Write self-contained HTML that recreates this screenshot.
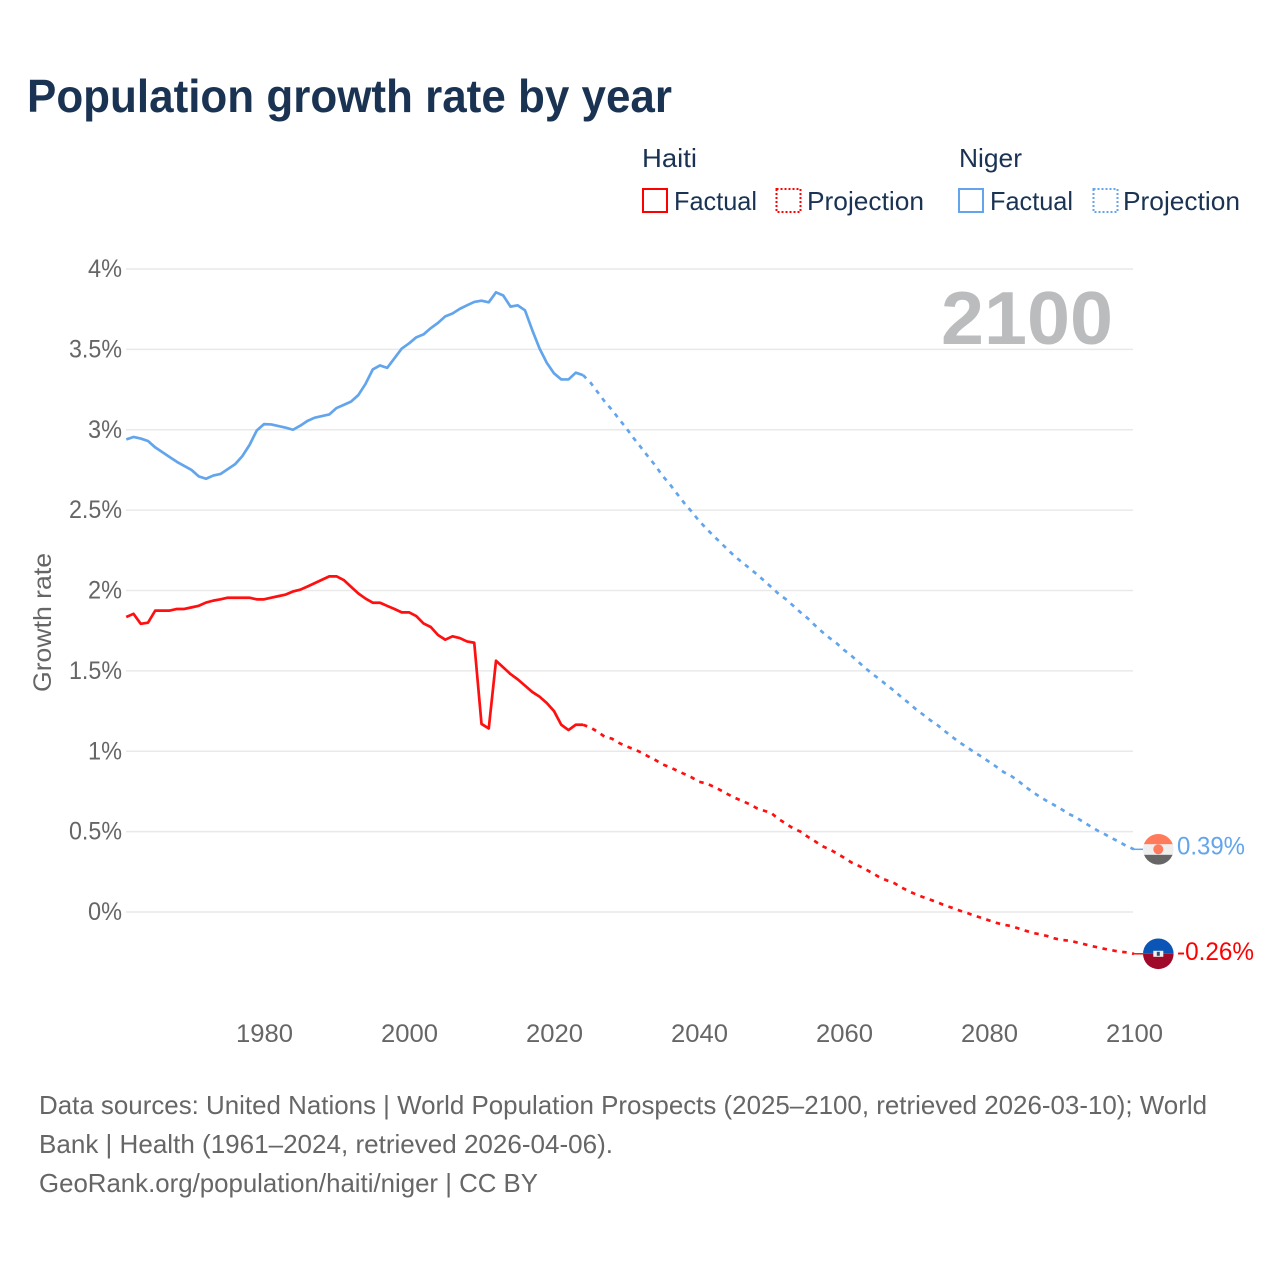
<!DOCTYPE html>
<html lang="en">
<head>
<meta charset="utf-8">
<title>Population growth rate by year</title>
<style>
html,body{margin:0;padding:0;background:#fff}
svg{display:block}
text{font-family:"Liberation Sans",sans-serif}
</style>
</head>
<body>
<svg id="chart" xmlns="http://www.w3.org/2000/svg" width="1280" height="1280" viewBox="0 0 1280 1280">
  <rect width="1280" height="1280" fill="#fff"/>
  <text x="27" y="112" font-size="46" font-weight="700" fill="#1a3353" textLength="645" lengthAdjust="spacingAndGlyphs">Population growth rate by year</text>

  <g font-size="26" fill="#1a3353">
    <text x="642" y="167" textLength="55" lengthAdjust="spacingAndGlyphs">Haiti</text>
    <text x="959" y="167" textLength="63" lengthAdjust="spacingAndGlyphs">Niger</text>
    <g>
      <rect x="643" y="189" width="24" height="23" fill="none" stroke="#ff0000" stroke-width="2"/>
      <text x="674" y="210" textLength="83" lengthAdjust="spacingAndGlyphs">Factual</text>
    </g>
    <g>
      <rect x="776.500" y="189" width="24" height="23" fill="none" stroke="#ff0000" stroke-width="2" stroke-dasharray="2 2"/>
      <text x="807" y="210" textLength="117" lengthAdjust="spacingAndGlyphs">Projection</text>
    </g>
    <g>
      <rect x="959" y="189" width="24" height="23" fill="none" stroke="#63a5ec" stroke-width="2"/>
      <text x="990" y="210" textLength="83" lengthAdjust="spacingAndGlyphs">Factual</text>
    </g>
    <g>
      <rect x="1093.500" y="189" width="24" height="23" fill="none" stroke="#63a5ec" stroke-width="2" stroke-dasharray="2 2"/>
      <text x="1123" y="210" textLength="117" lengthAdjust="spacingAndGlyphs">Projection</text>
    </g>
  </g>

  <g id="grid"></g>
  <g id="yticks"></g>
  <g id="xticks"></g>
  <text transform="translate(51 692) rotate(-90)" font-size="25" fill="#666" textLength="139" lengthAdjust="spacingAndGlyphs">Growth rate</text>
  <text x="941" y="344" font-size="75" font-weight="700" fill="#bbbcbe" textLength="172" lengthAdjust="spacingAndGlyphs">2100</text>

  <g id="series"></g>

  <g id="flag-niger">
    <clipPath id="clip-niger"><circle cx="0" cy="0" r="15.300"/></clipPath>
    <g clip-path="url(#clip-niger)">
      <rect x="-16" y="-16" width="32" height="11" fill="#ff7b5c"/>
      <rect x="-16" y="-5" width="32" height="10.500" fill="#efefef"/>
      <rect x="-16" y="5.500" width="32" height="11" fill="#666666"/>
      <circle cx="0" cy="0" r="5" fill="#ff7b5c"/>
    </g>
  </g>
  <g id="flag-haiti">
    <clipPath id="clip-haiti"><circle cx="0" cy="0" r="15.300"/></clipPath>
    <g clip-path="url(#clip-haiti)">
      <rect x="-16" y="-16" width="32" height="16" fill="#0a55b5"/>
      <rect x="-16" y="0" width="32" height="16" fill="#a00a2a"/>
      <rect x="-5" y="-3" width="10" height="6" fill="#f2f2f2"/>
      <rect x="-1.500" y="-2" width="3" height="4" fill="#33506e"/>
    </g>
  </g>
  <text id="value-niger" x="1177" font-size="25" fill="#63a5ec" textLength="68" lengthAdjust="spacingAndGlyphs"></text>
  <text id="value-haiti" x="1177" font-size="25" fill="#ff0000" textLength="77" lengthAdjust="spacingAndGlyphs"></text>

  <g font-size="26" fill="#666">
    <text x="39" y="1114" textLength="1168" lengthAdjust="spacingAndGlyphs">Data sources: United Nations | World Population Prospects (2025–2100, retrieved 2026-03-10); World</text>
    <text x="39" y="1153" textLength="574" lengthAdjust="spacingAndGlyphs">Bank | Health (1961–2024, retrieved 2026-04-06).</text>
    <text x="39" y="1192" textLength="499" lengthAdjust="spacingAndGlyphs">GeoRank.org/population/haiti/niger | CC BY</text>
  </g>
</svg>
<script>
const firstYear = 1961;
const xTickLabels = [1980, 2000, 2020, 2040, 2060, 2080, 2100];
const yTickValues = [0, 0.5, 1, 1.5, 2, 2.5, 3, 3.5, 4];
const yTickLabels = ["0%", "0.5%", "1%", "1.5%", "2%", "2.5%", "3%", "3.5%", "4%"];

// Factual values cover 1961-2024
const nigerFactual = [2.94,2.955,2.945,2.93,2.89,2.86,2.83,2.80,2.775,2.75,2.71,2.695,2.715,2.725,2.755,2.785,2.835,2.905,2.995,3.035,3.033,3.023,3.013,3.00,3.025,3.055,3.075,3.085,3.095,3.135,3.155,3.175,3.215,3.285,3.375,3.40,3.385,3.445,3.505,3.537,3.575,3.593,3.632,3.665,3.705,3.723,3.752,3.774,3.795,3.803,3.793,3.855,3.835,3.766,3.774,3.743,3.62,3.506,3.417,3.351,3.313,3.313,3.355,3.34];
const haitiFactual = [1.835,1.855,1.793,1.80,1.875,1.875,1.875,1.885,1.885,1.895,1.905,1.925,1.937,1.945,1.955,1.955,1.955,1.955,1.945,1.945,1.955,1.965,1.975,1.994,2.005,2.025,2.046,2.067,2.088,2.088,2.065,2.023,1.982,1.95,1.924,1.924,1.904,1.885,1.864,1.864,1.841,1.795,1.773,1.723,1.694,1.715,1.704,1.683,1.675,1.17,1.142,1.563,1.522,1.48,1.447,1.408,1.369,1.34,1.30,1.25,1.165,1.132,1.165,1.165];

// Projection values cover 2025-2100
const nigerProjection = [3.295,3.235,3.175,3.123,3.065,3.008,2.947,2.89,2.832,2.776,2.712,2.66,2.60,2.542,2.49,2.434,2.386,2.34,2.297,2.252,2.21,2.173,2.137,2.10,2.06,2.02,1.978,1.945,1.905,1.864,1.827,1.783,1.742,1.705,1.671,1.63,1.595,1.555,1.515,1.478,1.445,1.408,1.373,1.333,1.298,1.258,1.225,1.19,1.159,1.122,1.087,1.053,1.024,0.993,0.966,0.935,0.904,0.871,0.848,0.817,0.78,0.747,0.717,0.69,0.665,0.639,0.61,0.589,0.56,0.533,0.506,0.483,0.458,0.435,0.41,0.39];
const haitiProjection = [1.148,1.122,1.09,1.078,1.051,1.03,1.013,0.993,0.968,0.945,0.918,0.90,0.879,0.858,0.837,0.81,0.80,0.78,0.757,0.732,0.709,0.69,0.67,0.645,0.63,0.614,0.578,0.549,0.52,0.50,0.468,0.44,0.41,0.39,0.365,0.338,0.309,0.288,0.265,0.24,0.213,0.195,0.178,0.151,0.128,0.108,0.091,0.075,0.058,0.039,0.025,0.008,-0.006,-0.023,-0.037,-0.052,-0.067,-0.079,-0.087,-0.101,-0.116,-0.129,-0.139,-0.149,-0.164,-0.174,-0.178,-0.188,-0.199,-0.21,-0.22,-0.23,-0.238,-0.247,-0.251,-0.26];

const NS = "http://www.w3.org/2000/svg";
const xScale = function (year) { return 264 + (year - 1980) * 7.25; };
const yScale = function (value) { return 912 - value * 160.75; };

function svgEl(tag, parent) {
  const el = document.createElementNS(NS, tag);
  parent.appendChild(el);
  return el;
}

const gridGroup = document.getElementById("grid");
const yTickGroup = document.getElementById("yticks");
yTickValues.forEach(function (v, i) {
  const line = svgEl("line", gridGroup);
  
  
  line.setAttribute("x1", 126);
  line.setAttribute("x2", 1133);
  line.setAttribute("y1", yScale(v));
  line.setAttribute("y2", yScale(v));
  line.setAttribute("stroke", "#e9e9e9");
  line.setAttribute("stroke-width", 1.5);

  const label = svgEl("text", yTickGroup);
  
  
  const width = yTickLabels[i].length > 2 ? 53 : 34;
  label.setAttribute("x", 122 - width);
  label.setAttribute("y", yScale(v) + 8);
  label.setAttribute("font-size", 25);
  label.setAttribute("fill", "#666");
  label.setAttribute("textLength", width);
  label.setAttribute("lengthAdjust", "spacingAndGlyphs");
  label.textContent = yTickLabels[i];
});

const xTickGroup = document.getElementById("xticks");
xTickLabels.forEach(function (year) {
  const label = svgEl("text", xTickGroup);
  
  
  label.setAttribute("x", xScale(year) - 28);
  label.setAttribute("y", 1042);
  label.setAttribute("font-size", 25);
  label.setAttribute("fill", "#666");
  label.setAttribute("textLength", 57);
  label.setAttribute("lengthAdjust", "spacingAndGlyphs");
  label.textContent = year;
});

function pathFrom(values, startYear) {
  return values.map(function (v, i) {
    return (i ? "L" : "M") + xScale(startYear + i).toFixed(2) + " " + yScale(v).toFixed(2);
  }).join("");
}

const seriesGroup = document.getElementById("series");
const projectionStart = firstYear + nigerFactual.length;

const nigerFactualLine = svgEl("path", seriesGroup);


nigerFactualLine.setAttribute("d", pathFrom(nigerFactual, firstYear));
nigerFactualLine.setAttribute("stroke", "#63a5ec");

const haitiFactualLine = svgEl("path", seriesGroup);


haitiFactualLine.setAttribute("d", pathFrom(haitiFactual, firstYear));
haitiFactualLine.setAttribute("stroke", "#ff0f0f");

const nigerProjectionLine = svgEl("path", seriesGroup);


nigerProjectionLine.setAttribute("d", pathFrom([nigerFactual[nigerFactual.length - 1]].concat(nigerProjection), projectionStart - 1));
nigerProjectionLine.setAttribute("stroke", "#63a5ec");
nigerProjectionLine.setAttribute("stroke-dasharray", "4.5 5.5");

const haitiProjectionLine = svgEl("path", seriesGroup);


haitiProjectionLine.setAttribute("d", pathFrom([haitiFactual[haitiFactual.length - 1]].concat(haitiProjection), projectionStart - 1));
haitiProjectionLine.setAttribute("stroke", "#ff0f0f");
haitiProjectionLine.setAttribute("stroke-dasharray", "4.5 5.5");

[nigerFactualLine, haitiFactualLine, nigerProjectionLine, haitiProjectionLine].forEach(function (p) {
  p.setAttribute("fill", "none");
  p.setAttribute("stroke-width", 2.7);
  p.setAttribute("stroke-linejoin", "round");
});

// End-of-line markers follow the final projected value
const lastYear = projectionStart + nigerProjection.length - 1;
const nigerLast = nigerProjection[nigerProjection.length - 1];
const haitiLast = haitiProjection[haitiProjection.length - 1];

const nigerLeader = svgEl("line", seriesGroup);


nigerLeader.setAttribute("x1", xScale(lastYear));
nigerLeader.setAttribute("x2", 1143);
nigerLeader.setAttribute("y1", yScale(nigerLast));
nigerLeader.setAttribute("y2", yScale(nigerLast));
nigerLeader.setAttribute("stroke", "#63a5ec");
nigerLeader.setAttribute("stroke-width", 1.5);

const haitiLeader = svgEl("line", seriesGroup);


haitiLeader.setAttribute("x1", xScale(lastYear));
haitiLeader.setAttribute("x2", 1143);
haitiLeader.setAttribute("y1", yScale(haitiLast));
haitiLeader.setAttribute("y2", yScale(haitiLast));
haitiLeader.setAttribute("stroke", "#ff0f0f");
haitiLeader.setAttribute("stroke-width", 1.5);

document.getElementById("flag-niger").setAttribute("transform", "translate(1158.3 " + yScale(nigerLast) + ")");
document.getElementById("flag-haiti").setAttribute("transform", "translate(1158.3 " + yScale(haitiLast) + ")");

const nigerValue = document.getElementById("value-niger");
nigerValue.setAttribute("y", yScale(nigerLast) + 5);
nigerValue.textContent = nigerLast.toFixed(2) + "%";

const haitiValue = document.getElementById("value-haiti");
haitiValue.setAttribute("y", yScale(haitiLast) + 6);
haitiValue.textContent = haitiLast.toFixed(2) + "%";
</script>
</body>
</html>
